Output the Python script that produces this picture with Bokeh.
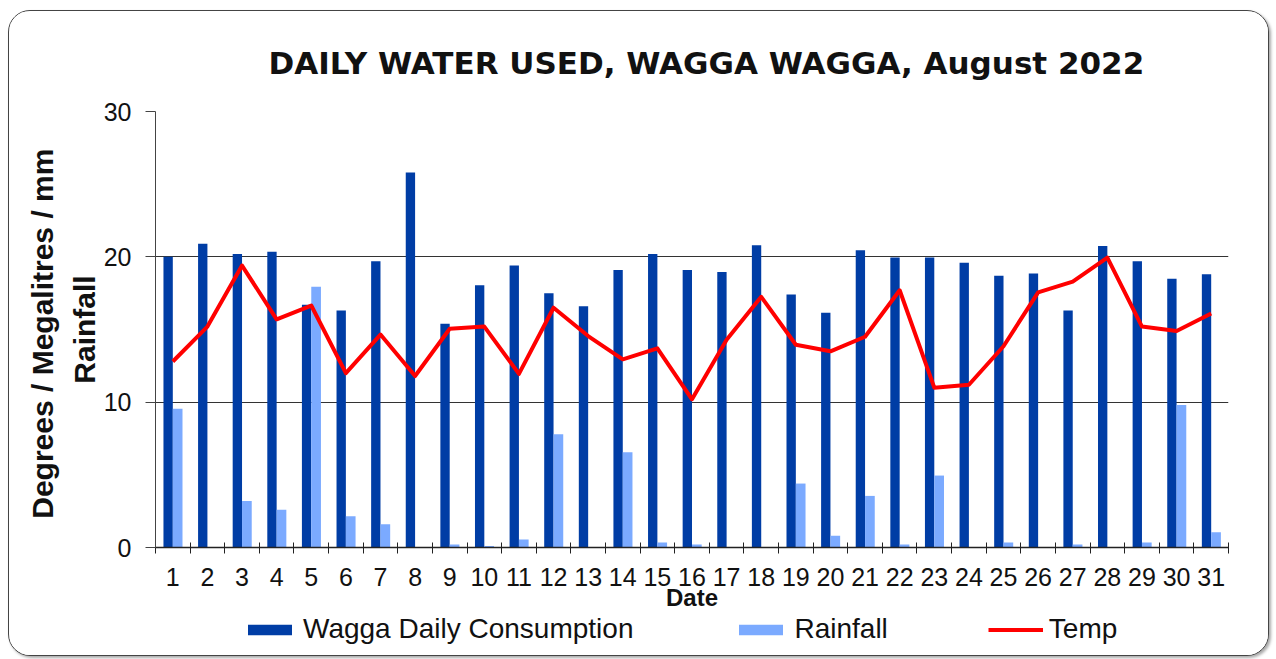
from bokeh.plotting import figure
from bokeh.layouts import column
from bokeh.models import (ColumnDataSource, Range1d, FixedTicker, Legend, LegendItem, Title)
from bokeh.transform import dodge
from bokeh.embed import file_html
from bokeh.resources import INLINE

days = list(range(1, 32))
consumption = [20.0, 20.9, 20.2, 20.35, 16.7, 16.3, 19.7, 25.8, 15.4, 18.05,
               19.4, 17.5, 16.6, 19.1, 20.2, 19.1, 18.95, 20.8, 17.4, 16.15,
               20.45, 19.95, 19.95, 19.6, 18.7, 18.85, 16.3, 20.75, 19.7, 18.5, 18.8]
rainfall = [9.55, 0.0, 3.2, 2.6, 17.95, 2.15, 1.6, 0.0, 0.2, 0.1,
            0.55, 7.8, 0.0, 6.55, 0.35, 0.2, 0.0, 0.0, 4.4, 0.8,
            3.55, 0.2, 4.95, 0.0, 0.35, 0.0, 0.2, 0.0, 0.35, 9.8, 1.05]
temp = [12.8, 15.2, 19.4, 15.7, 16.65, 12.0, 14.65, 11.8, 15.05, 15.2,
        11.95, 16.5, 14.55, 12.95, 13.7, 10.2, 14.3, 17.25, 13.95, 13.5,
        14.5, 17.7, 11.0, 11.2, 13.85, 17.55, 18.3, 19.95, 15.2, 14.9, 16.1]
y_ticks = [0, 10, 20, 30]
series_names = ["Wagga Daily Consumption", "Rainfall", "Temp"]

src = ColumnDataSource(dict(day=days, cons=consumption, rain=rainfall, temp=temp))

DARK = "#003DA5"
LIGHT = "#7BAAFF"
RED = "#FF0000"
FONT = "Liberation Sans"

p = figure(frame_width=1073, frame_height=436, output_backend="svg", toolbar_location=None,
           x_range=Range1d(0.5, 31.5), y_range=Range1d(0, 30),
           min_border_left=146, min_border_right=40, min_border_top=100,
           min_border_bottom=0)
p.outline_line_color = None
p.background_fill_color = "white"

title = Title(text="DAILY WATER USED, WAGGA WAGGA, August 2022", align="left", offset=113,
              text_font="DejaVu Sans", text_font_size="31px",
              text_font_style="bold", text_color="#111", standoff=62)
p.add_layout(title, "above")

p.vbar(x=dodge("day", -0.135, range=p.x_range), top="cons", width=0.27,
       source=src, fill_color=DARK, line_color=None)
p.vbar(x=dodge("day", 0.14, range=p.x_range), top="rain", width=0.28,
       source=src, fill_color=LIGHT, line_color=None)
p.line(x="day", y="temp", source=src, line_color=RED, line_width=4, line_join="round")

# axes
xa = p.xaxis[0]
xa.ticker = FixedTicker(ticks=days, minor_ticks=[d + 0.5 for d in range(0, 32)])
xa.major_tick_out = 0
xa.major_tick_in = 0
xa.minor_tick_in = 5
xa.minor_tick_out = 6
xa.minor_tick_line_color = "#222"
xa.axis_line_color = "#222"
xa.axis_line_width = 1.3
xa.major_label_text_font = FONT
xa.major_label_text_font_size = "25px"
xa.major_label_text_color = "#111"
xa.major_label_standoff = 14
xa.axis_label = "Date"
xa.axis_label_text_font = FONT
xa.axis_label_text_font_style = "bold"
xa.axis_label_text_font_size = "24px"
xa.axis_label_text_color = "#111"
xa.axis_label_standoff = -5

ya = p.yaxis[0]
ya.ticker = FixedTicker(ticks=y_ticks)
ya.minor_tick_line_color = None
ya.major_tick_in = 0
ya.major_tick_out = 10
ya.major_tick_line_color = "#444"
ya.axis_line_color = "#444"
ya.major_label_text_font = FONT
ya.major_label_text_font_size = "25px"
ya.major_label_text_color = "#111"
ya.major_label_standoff = 14
ya.axis_label = "Degrees / Megalitres /  mm\nRainfall"
ya.axis_label_text_font = FONT
ya.axis_label_text_font_style = "bold"
ya.axis_label_text_font_size = "30px"
ya.axis_label_text_line_height = 1.25
ya.axis_label_text_color = "#111"
ya.axis_label_standoff = 0

p.xgrid.grid_line_color = None
p.ygrid.ticker = FixedTicker(ticks=y_ticks)
p.ygrid.grid_line_color = "#333"
p.ygrid.grid_line_width = 1.2

# legend strip (same series styles, zero-size placeholder marks)
lf = figure(width=1259, height=42, x_axis_type=None, y_axis_type=None,
            toolbar_location=None, output_backend="svg", min_border=0,
            x_range=Range1d(0, 1), y_range=Range1d(0, 1))
lf.outline_line_color = None
lf.xgrid.grid_line_color = None
lf.ygrid.grid_line_color = None
lg_c = lf.vbar(x=[0], top=[0], width=0, fill_color=DARK, line_color=None)
lg_r = lf.vbar(x=[0], top=[0], width=0, fill_color=LIGHT, line_color=None)
lg_t = lf.line(x=[0], y=[0], line_color=RED, line_width=4)
legend = Legend(items=[LegendItem(label=series_names[0], renderers=[lg_c]),
                       LegendItem(label=series_names[1], renderers=[lg_r]),
                       LegendItem(label=series_names[2], renderers=[lg_t])],
                orientation="horizontal", location=(87, 10),
                border_line_color=None, background_fill_alpha=0,
                label_text_font=FONT, label_text_font_size="28px",
                label_text_color="#111",
                glyph_width=55, glyph_height=13, spacing=100, padding=0, margin=0,
                label_standoff=6)
lf.add_layout(legend, "center")

layout = column(p, lf, spacing=0)
layout.styles = {"border": "1.5px solid #444", "border-radius": "22px",
                 "box-shadow": "2px 2px 3px #aaa", "margin-left": "8px",
                 "margin-top": "10px", "background-color": "white",
                 "overflow": "hidden"}

open("out.html", "w").write(file_html(layout, INLINE))
